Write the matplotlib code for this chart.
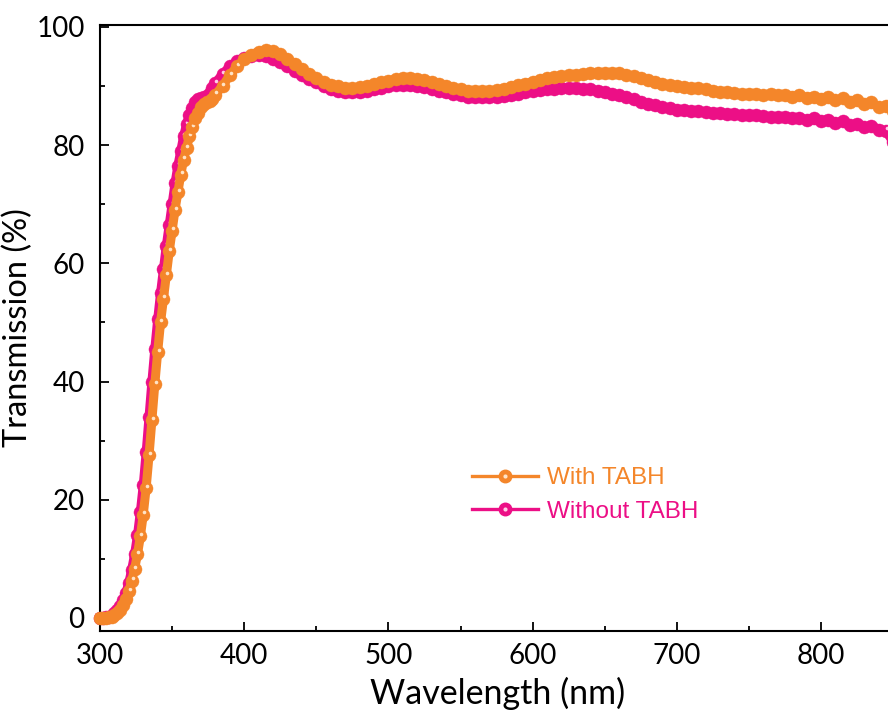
import matplotlib
matplotlib.use("Agg")
import matplotlib.pyplot as plt
from matplotlib import transforms
from matplotlib.lines import Line2D
from matplotlib.legend_handler import HandlerTuple
import numpy as np

# wavelength grid: 2 nm steps on the absorption edge, 5 nm above it
wavelength = list(range(300, 381, 2)) + list(range(385, 851, 5))

with_tabh = [
    0.0, 0.0, 0.0, 0.1, 0.2, 0.5, 0.9, 1.4, 2.2, 3.2,
    4.5, 6.3, 8.3, 10.8, 13.8, 17.5, 22.0, 27.5, 33.5, 39.5,
    45.0, 50.0, 54.0, 58.0, 62.0, 65.5, 69.0, 72.0, 75.0, 77.5,
    79.5, 81.5, 83.0, 84.5, 85.5, 86.5, 87.0, 87.3, 87.5, 87.8,
    88.5,
    90.0, 91.8, 93.3, 94.5, 95.3, 95.8, 96.0, 95.9, 95.4, 94.6,
    93.7, 92.8, 92.0, 91.3, 90.7, 90.2, 89.9, 89.7, 89.7, 89.8,
    90.0, 90.3, 90.6, 90.9, 91.1, 91.3, 91.3, 91.2, 91.0, 90.7,
    90.3, 90.0, 89.7, 89.4, 89.2, 89.1, 89.1, 89.2, 89.3, 89.5,
    89.8, 90.1, 90.4, 90.7, 91.0, 91.3, 91.5, 91.7, 91.8, 91.9,
    92.0, 92.1, 92.1, 92.2, 92.2, 92.1, 91.9, 91.6, 91.3, 91.0,
    90.7, 90.4, 90.1, 89.9, 89.8, 89.7, 89.6, 89.4, 89.2, 89.0,
    88.9, 88.8, 88.7, 88.6, 88.6, 88.5, 88.6, 88.4, 88.5, 88.2,
    88.4, 88.0, 88.2, 87.8, 88.1, 87.6, 87.9, 87.3, 87.6, 86.9,
    87.2, 86.4, 86.6, 85.8,
]

without_tabh = [
    0.0, 0.0, 0.1, 0.2, 0.4, 0.8, 1.3, 2.0, 3.0, 4.3,
    6.0, 8.2, 10.8, 14.0, 18.0, 22.5, 28.0, 34.0, 40.0, 45.5,
    50.5, 55.0, 59.0, 63.0, 66.5, 70.0, 73.5, 76.5, 79.0, 81.5,
    83.5, 85.0, 86.3, 87.2, 87.7, 88.0, 88.1, 88.3, 88.8, 89.6,
    90.5,
    92.0, 93.3, 94.2, 94.8, 95.1, 95.2, 95.0, 94.6, 94.0, 93.3,
    92.5, 91.8, 91.2, 90.6, 90.0, 89.5, 89.1, 88.9, 88.9, 89.0,
    89.2, 89.4, 89.7, 89.9, 90.1, 90.2, 90.2, 90.0, 89.8, 89.5,
    89.2, 88.9, 88.6, 88.4, 88.2, 88.1, 88.1, 88.1, 88.2, 88.3,
    88.5, 88.7, 88.9, 89.1, 89.3, 89.4, 89.5, 89.6, 89.6, 89.6,
    89.5, 89.4, 89.2, 89.0, 88.7, 88.4, 88.1, 87.7, 87.3, 87.0,
    86.7, 86.4, 86.2, 86.0, 85.9, 85.8, 85.7, 85.6, 85.5, 85.4,
    85.3, 85.2, 85.1, 85.0, 85.0, 84.9, 84.8, 84.7, 84.8, 84.5,
    84.6, 84.3, 84.5, 84.1, 84.3, 83.8, 84.0, 83.4, 83.6, 83.0,
    83.3, 82.6, 82.4, 80.5,
]

orange = "#F4862A"
magenta = "#EC0F86"
orange_glow = "#FFE3C6"
magenta_glow = "#FFCDE6"

plt.rcParams["font.family"] = ["Lato", "DejaVu Sans"]

fig = plt.figure(figsize=(8.88, 7.18), dpi=100)
ax = fig.add_axes([100 / 888, 87 / 718, 796 / 888, 606 / 718])
ax.set_xlim(300, 852)
ax.set_ylim(-2.2, 100.3)

shine = transforms.offset_copy(ax.transData, fig=fig, x=0.6, y=1.7, units="points")


def draw_spheres(x, y, color, glow, z0):
    # fairly fat line under the balls fills the notches on the flat parts
    ax.plot(x, y, color=color, lw=6.5, solid_joinstyle="round",
            zorder=z0 - 0.01, clip_on=False)
    # gap to the next ball in pixels: only where balls are spread out
    # does the shine stay visible (on the flat parts they pile up)
    pix = ax.transData.transform(np.column_stack([x, y]))
    gap = np.hypot(*np.diff(pix, axis=0).T)
    gap = np.append(gap, 99)
    for i, (xi, yi) in enumerate(zip(x, y)):
        z = z0 + i * 1e-3
        ax.plot(xi, yi, "o", ms=9.4, mfc=color, mec=color, mew=0.3,
                zorder=z, clip_on=False)
        if gap[i] > 9:
            ax.plot(xi, yi, "o", ms=2.6, mfc=glow, mec="none",
                    zorder=z + 5e-4, clip_on=False, transform=shine)


draw_spheres(wavelength, without_tabh, magenta, magenta_glow, 2)
draw_spheres(wavelength, with_tabh, orange, orange_glow, 3)

ax.set_xticks([300, 400, 500, 600, 700, 800])
ax.set_xticks([350, 450, 550, 650, 750, 850], minor=True)
ax.set_yticks([0, 20, 40, 60, 80, 100])
ax.set_yticks([10, 30, 50, 70, 90], minor=True)
ax.tick_params(which="both", direction="in", width=1.3, labelsize=20)
ax.tick_params(axis="x", pad=9)
ax.tick_params(axis="y", pad=11)
ax.tick_params(which="major", length=6.5)
ax.tick_params(which="minor", length=3.8)
for s in ax.spines.values():
    s.set_linewidth(1.5)

ax.set_xlabel("Wavelength (nm)", fontsize=24.5, labelpad=5)
ax.set_ylabel("Transmission (%)", fontsize=23.5, labelpad=2)

h_with = (Line2D([], [], color=orange, lw=2.4, marker="o", ms=9, mfc=orange, mec=orange),
          Line2D([], [], ls="none", marker="o", ms=3, mfc=orange_glow, mec="none"))
h_without = (Line2D([], [], color=magenta, lw=2.4, marker="o", ms=9, mfc=magenta, mec=magenta),
             Line2D([], [], ls="none", marker="o", ms=3, mfc=magenta_glow, mec="none"))
leg = ax.legend([h_with, h_without], ["With TABH", "Without TABH"],
                handler_map={tuple: HandlerTuple(ndivide=1)},
                loc="upper left", bbox_to_anchor=(472 / 888, 1 - 467 / 718),
                bbox_transform=fig.transFigure, frameon=False, borderpad=0,
                borderaxespad=0, handlelength=2.7, handletextpad=0.4,
                labelspacing=0.48, prop={"family": "Liberation Sans", "size": 17.5})
for txt, c in zip(leg.get_texts(), [orange, magenta]):
    txt.set_color(c)

fig.savefig("out.png", dpi=100)
